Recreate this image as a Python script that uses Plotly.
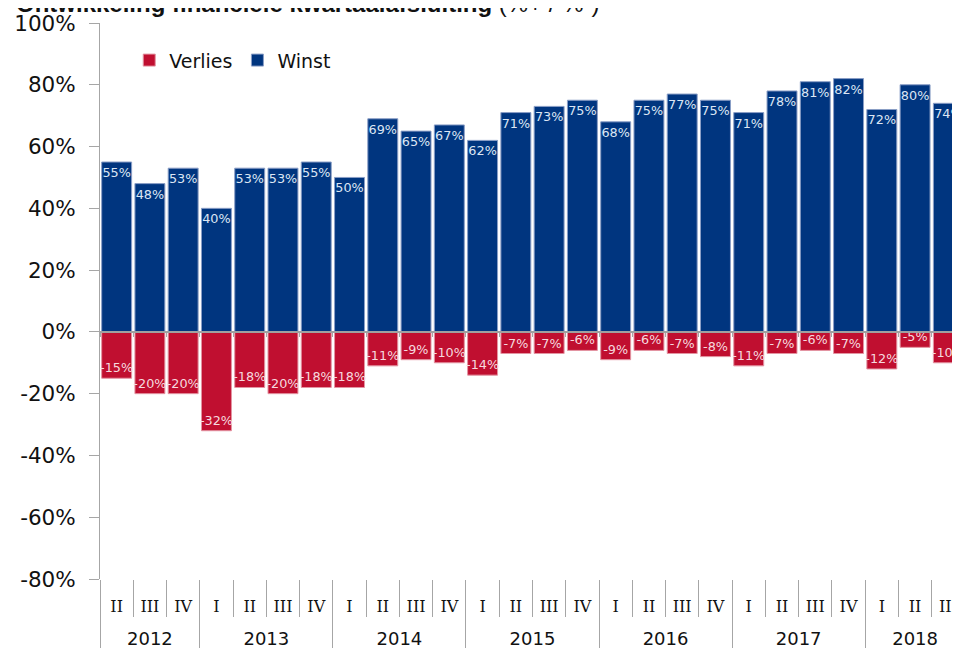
import plotly.graph_objects as go

years = ["2012"] * 3 + ["2013"] * 4 + ["2014"] * 4 + ["2015"] * 4 + ["2016"] * 4 + ["2017"] * 4 + ["2018"] * 3
quarters = ["II", "III", "IV",
            "I", "II", "III", "IV",
            "I", "II", "III", "IV",
            "I", "II", "III", "IV",
            "I", "II", "III", "IV",
            "I", "II", "III", "IV",
            "I", "II", "III"]
winst = [55, 48, 53, 40, 53, 53, 55, 50, 69, 65, 67, 62, 71, 73, 75, 68, 75, 77, 75, 71, 78, 81, 82, 72, 80, 74]
verlies = [15, 20, 20, 32, 18, 20, 18, 18, 11, 9, 10, 14, 7, 7, 6, 9, 6, 7, 8, 11, 7, 6, 7, 12, 5, 10]
y_ticks = [-80, -60, -40, -20, 0, 20, 40, 60, 80, 100]

BLUE = "#00357f"
RED = "#c00f30"
GRAY = "#a6a6a6"

cats = ["%s %s" % (y, q) for y, q in zip(years, quarters)]
n = len(cats)
x_range = [-0.5, n - 0.65]

# boundaries derived from the categories
year_order = []
for y in years:
    if y not in year_order:
        year_order.append(y)
year_centers = [sum(i for i, yy in enumerate(years) if yy == y) / years.count(y) for y in year_order]
year_bounds = [-0.5] + [i - 0.5 for i in range(1, n) if years[i] != years[i - 1]]
quarter_bounds = [i - 0.5 for i in range(1, n) if years[i] == years[i - 1]] + [n - 0.5]
all_bounds = [i - 0.5 for i in range(n + 1)]

fig = go.Figure()
fig.add_trace(go.Bar(
    x=cats, y=[-v for v in verlies], name="Verlies",
    marker=dict(color=RED, line=dict(color="#e394a2", width=1)),
    text=["-%d%%" % v for v in verlies], textposition="inside", insidetextanchor="end",
    textangle=0, constraintext="none",
    textfont=dict(family="DejaVu Sans", size=12.8, color="#f6d9df"),
))
fig.add_trace(go.Bar(
    x=cats, y=winst, name="Winst",
    marker=dict(color=BLUE, line=dict(color="#8a9ec6", width=1)),
    text=["%d%%" % v for v in winst], textposition="inside", insidetextanchor="end",
    textangle=0, constraintext="none",
    textfont=dict(family="DejaVu Sans", size=12.8, color="#dce6f4"),
))
for ax in ["x2", "x3", "x4", "x5"]:
    fig.add_trace(go.Scatter(x=[0], y=[0], xaxis=ax, mode="markers", marker=dict(opacity=0),
                             showlegend=False, hoverinfo="skip"))

common = dict(overlaying="x", anchor="free", side="bottom", range=x_range,
              showgrid=False, zeroline=False, automargin=False)

fig.update_layout(
    width=952, height=640,
    margin=dict(l=92, r=0, t=15, b=69, autoexpand=False),
    paper_bgcolor="white", plot_bgcolor="white",
    barmode="relative", bargap=0.1,
    showlegend=True,
    legend=dict(orientation="h", x=0.034, y=0.933, xanchor="left", yanchor="middle",
                font=dict(family="DejaVu Sans", size=19, color="#111"),
                traceorder="normal", bgcolor="rgba(0,0,0,0)"),
    xaxis=dict(type="category", range=x_range, showline=False, ticks="",
               tickvals=cats, ticktext=quarters, showgrid=False, zeroline=False,
               tickfont=dict(family="DejaVu Serif", size=16, color="#111"),
               ticklabelstandoff=16, automargin=False),
    xaxis2=dict(position=0, tickvals=quarter_bounds, showticklabels=False, ticks="outside",
                ticklen=37, tickcolor=GRAY, tickwidth=1, showline=False, **common),
    xaxis3=dict(position=80 / 180, tickvals=all_bounds, showticklabels=False, ticks="outside",
                ticklen=4, tickcolor=GRAY, tickwidth=1, showline=True, linecolor="#a0a0a0",
                linewidth=1.5, **common),
    xaxis4=dict(position=0, tickvals=year_centers, ticktext=year_order, ticks="",
                tickfont=dict(family="DejaVu Sans", size=18, color="#111"),
                ticklabelstandoff=47, showline=False, **common),
    xaxis5=dict(position=0, tickvals=year_bounds, showticklabels=False, ticks="outside",
                ticklen=75, tickcolor=GRAY, tickwidth=1, showline=False, **common),
    yaxis=dict(range=[-80, 100], tickvals=y_ticks,
               ticktext=["%d%%" % v for v in y_ticks],
               tickfont=dict(family="DejaVu Sans", size=21.5, color="#111"),
               showline=True, linecolor=GRAY, linewidth=1, ticks="outside", ticklen=10,
               tickcolor=GRAY, ticklabelstandoff=9, showgrid=False, zeroline=False,
               automargin=False),
    annotations=[dict(
        text="<b>Ontwikkeling financiële kwartaalafsluiting</b> (%+ / %-)",
        xref="paper", yref="paper", x=-0.1, y=(556 + 19) / 556, xanchor="left", yanchor="middle",
        showarrow=False, font=dict(family="Liberation Sans", size=24, color="#111"))],
)

fig.write_html("out.html")
